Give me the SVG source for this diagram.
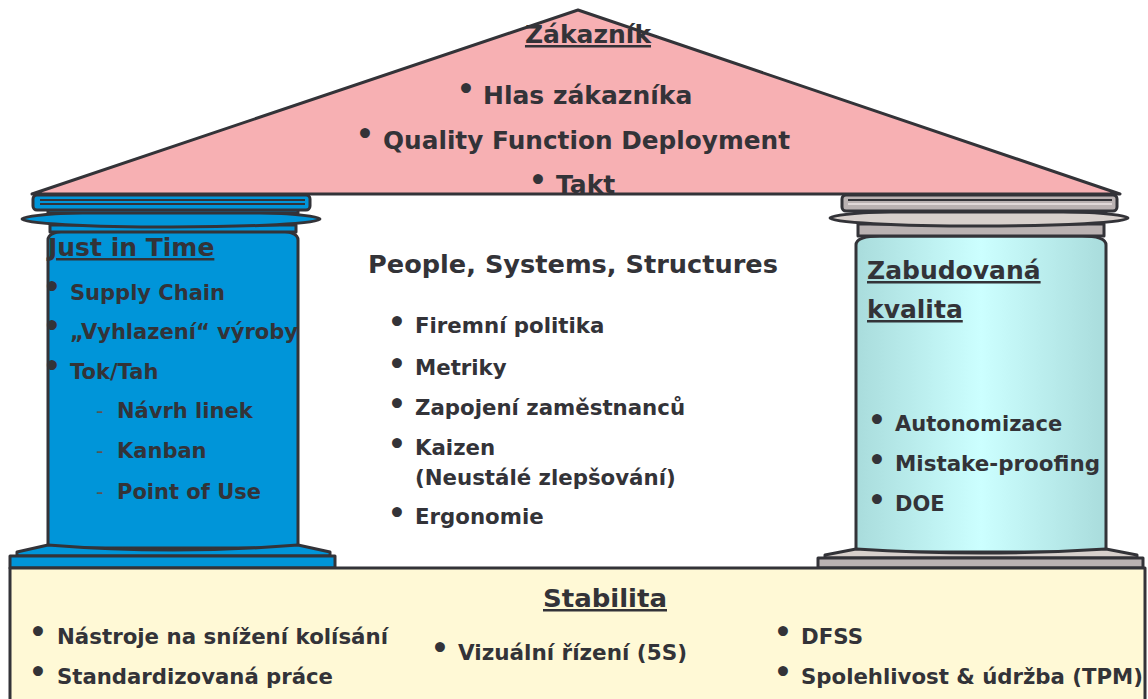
<svg xmlns="http://www.w3.org/2000/svg" width="1148" height="699" viewBox="0 0 1148 699">
<defs>
<linearGradient id="cyanG" x1="0" y1="0" x2="1" y2="0">
<stop offset="0" stop-color="#a9dcdc"/>
<stop offset="0.5" stop-color="#ccffff"/>
<stop offset="1" stop-color="#a9dcdc"/>
</linearGradient>
<style>
.ln{stroke:#333338;stroke-width:3;stroke-linejoin:round}
.thin{stroke:#333338;stroke-width:2}
.blue{fill:#0095d9}
.grey{fill:#bab2b2}
.lgrey{fill:#d8d0cc}
text{font-family:"DejaVu Sans","Verdana",sans-serif;font-weight:bold;fill:#333338}
.h{font-size:25px}
.t{font-size:21px}
.s{font-size:21.3px}
.u{text-decoration:underline}
.bl{font-size:28px;text-anchor:middle}
.dash{font-weight:normal;fill:#555}
</style>
</defs>
<rect width="1148" height="699" fill="#ffffff"/>

<g id="left-column">
<path class="ln blue" d="M48,548 L48,240 Q48,231 70,231 L276,231 Q298,231 298,240 L298,548 Z"/>
<path class="ln blue" d="M50,225 L296,225 L296,232 L50,232 Z"/>
<ellipse class="ln blue" cx="171" cy="219" rx="149" ry="8"/>
<path class="ln blue" d="M48,209 L298,209 L298,213 L48,213 Z"/>
<rect class="ln blue" x="33" y="195" width="277" height="15" rx="4"/>
<line class="thin" x1="40" y1="200" x2="305" y2="200"/>
<line class="thin" x1="40" y1="204" x2="305" y2="204"/>
<path class="ln blue" d="M48,545 L17,552 L17,556 L330,556 L330,552 L298,545 Q173,555 48,545 Z"/>
<rect class="ln blue" x="10" y="556" width="325" height="12"/>
</g>

<g id="right-column">
<path d="M856,552 L856,245 Q856,236 880,236 L1082,236 Q1106,236 1106,245 L1106,552 Z" fill="url(#cyanG)" class="ln"/>
<path class="ln grey" d="M858,224 L1104,224 L1104,236 L858,236 Z"/>
<ellipse class="ln lgrey" cx="979" cy="218" rx="149" ry="8"/>
<path class="ln grey" d="M856,209 L1106,209 L1106,212 L856,212 Z"/>
<rect class="ln grey" x="842" y="195" width="275" height="16" rx="4"/>
<line class="thin" x1="848" y1="200" x2="1112" y2="200"/>
<line x1="848" y1="204" x2="1112" y2="204" stroke="#e0d8d8" stroke-width="2"/>
<path class="ln lgrey" d="M856,549 L825,555 L825,558 L1137,558 L1137,555 L1106,549 Q981,557 856,549 Z"/>
<rect class="ln grey" x="818" y="558" width="325" height="10"/>
</g>

<g id="roof">
<path class="ln" fill="#f7b0b3" d="M32,194 L578,10 L1120,194 Z"/>
<text class="h u" x="588" y="43" text-anchor="middle">Zákazník</text>
<text class="bl" x="466" y="99">•</text>
<text class="h" x="483" y="104">Hlas zákazníka</text>
<text class="bl" x="365" y="144">•</text>
<text class="h" x="383" y="149" textLength="407" lengthAdjust="spacingAndGlyphs">Quality Function Deployment</text>
<text class="bl" x="538" y="190">•</text>
<text class="h" x="556" y="193">Takt</text>
</g>

<g id="left-text">
<text class="h u" x="48" y="256">Just in Time</text>
<text class="bl" x="52" y="297">•</text>
<text class="t" x="70" y="300">Supply Chain</text>
<text class="bl" x="52" y="336">•</text>
<text class="t" x="70" y="339" textLength="228" lengthAdjust="spacingAndGlyphs">„Vyhlazení“ výroby</text>
<text class="bl" x="52" y="376">•</text>
<text class="t" x="70" y="379">Tok/Tah</text>
<text class="t dash" x="96" y="418">-</text>
<text class="t" x="117" y="418">Návrh linek</text>
<text class="t dash" x="96" y="458">-</text>
<text class="t" x="117" y="458">Kanban</text>
<text class="t dash" x="96" y="499">-</text>
<text class="t" x="117" y="499">Point of Use</text>
</g>

<g id="center-text">
<text class="h" x="368" y="273" textLength="410" lengthAdjust="spacingAndGlyphs">People, Systems, Structures</text>
<text class="bl" x="397" y="332">•</text>
<text class="s" x="415" y="333">Firemní politika</text>
<text class="bl" x="397" y="374">•</text>
<text class="s" x="415" y="375">Metriky</text>
<text class="bl" x="397" y="414">•</text>
<text class="s" x="415" y="415">Zapojení zaměstnanců</text>
<text class="bl" x="397" y="454">•</text>
<text class="s" x="415" y="455">Kaizen</text>
<text class="s" x="415" y="485">(Neustálé zlepšování)</text>
<text class="bl" x="397" y="523">•</text>
<text class="s" x="415" y="524">Ergonomie</text>
</g>

<g id="right-text">
<text class="h u" x="867" y="279">Zabudovaná</text>
<text class="h u" x="867" y="318">kvalita</text>
<text class="bl" x="877" y="430">•</text>
<text class="t" x="895" y="431">Autonomizace</text>
<text class="bl" x="877" y="470">•</text>
<text class="t" x="895" y="471" textLength="205" lengthAdjust="spacingAndGlyphs">Mistake-proofing</text>
<text class="bl" x="877" y="510">•</text>
<text class="t" x="895" y="511">DOE</text>
</g>

<g id="foundation">
<rect class="ln" fill="#fff9d6" x="10" y="568" width="1135" height="140"/>
<text class="h u" x="605" y="607" text-anchor="middle" textLength="124" lengthAdjust="spacingAndGlyphs">Stabilita</text>
<text class="bl" x="38" y="642">•</text>
<text class="t" x="57" y="644" textLength="331" lengthAdjust="spacingAndGlyphs">Nástroje na snížení kolísání</text>
<text class="bl" x="38" y="682">•</text>
<text class="t" x="57" y="684" textLength="276" lengthAdjust="spacingAndGlyphs">Standardizovaná práce</text>
<text class="bl" x="440" y="658">•</text>
<text class="t" x="458" y="660" textLength="229" lengthAdjust="spacingAndGlyphs">Vizuální řízení (5S)</text>
<text class="bl" x="783" y="642">•</text>
<text class="t" x="801" y="644" textLength="62" lengthAdjust="spacingAndGlyphs">DFSS</text>
<text class="bl" x="783" y="682">•</text>
<text class="t" x="801" y="684" textLength="342" lengthAdjust="spacingAndGlyphs">Spolehlivost &amp; údržba (TPM)</text>
</g>
</svg>
